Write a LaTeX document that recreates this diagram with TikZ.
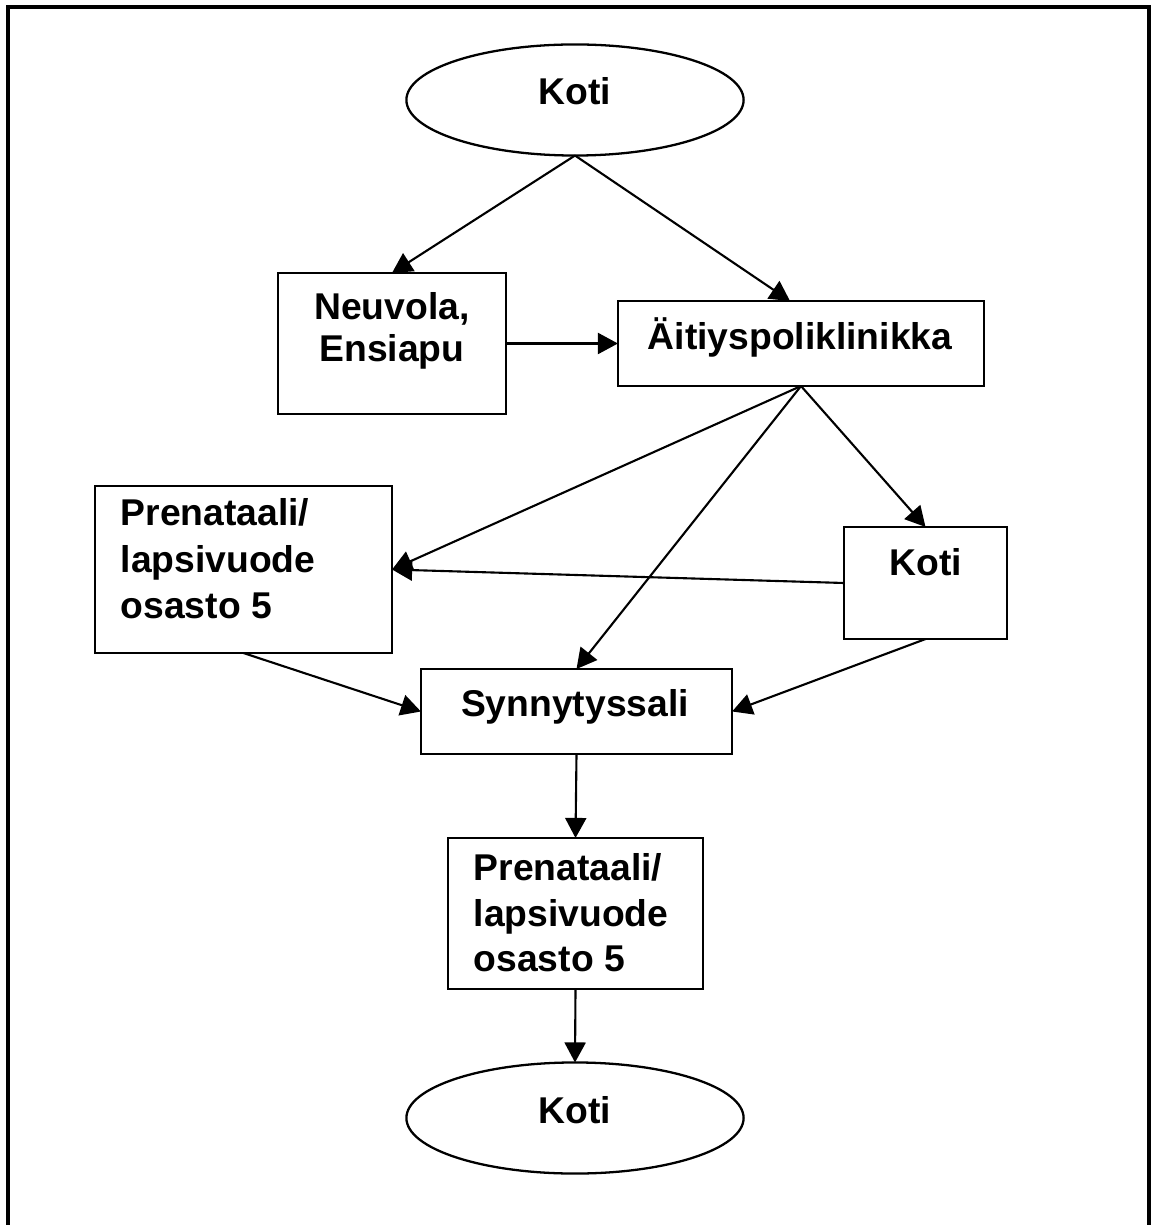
\documentclass[tikz,border=0pt]{standalone}
\usepackage{fontspec}
\setmainfont{Liberation Sans}
\usetikzlibrary{arrows.meta,shapes.geometric}
\begin{document}
\begin{tikzpicture}[x=0.01cm,y=-0.01cm,
  box/.style={draw, line width=0.65pt, rectangle, inner sep=0pt, outer sep=0pt},
  oval/.style={draw, line width=0.65pt, ellipse, inner sep=0pt, outer sep=0pt,
    minimum width=3.37cm, minimum height=1.11cm},
  lbl/.style={inner sep=0pt, font=\fontsize{10.6}{12}\selectfont\bfseries},
  arr/.style={line width=0.6pt, -{Triangle[length=5.7pt,width=6pt]}},
  frame/.style={line width=0.9pt}
]
\useasboundingbox (0,0) rectangle (1151,1225);
\draw[frame] (8,1240) -- (8,7) -- (1149,7) -- (1149,1240);

% shapes
\node[oval] (koti1) at (575,100) {};
\node[box, minimum width=2.28cm, minimum height=1.41cm] (neu) at (392,343.5) {};
\node[box, minimum width=3.66cm, minimum height=0.85cm] (ait) at (801,343.5) {};
\node[box, minimum width=2.97cm, minimum height=1.67cm] (pren1) at (243.5,569.5) {};
\node[box, minimum width=1.63cm, minimum height=1.12cm] (koti2) at (925.5,583) {};
\node[box, minimum width=3.11cm, minimum height=0.85cm] (syn) at (576.5,711.5) {};
\node[box, minimum width=2.55cm, minimum height=1.51cm] (pren2) at (575.5,913.5) {};
\node[oval] (koti3) at (575,1118) {};

% texts
\node[lbl, anchor=base] (tk1) at (575,105) {Koti};
\node[lbl, anchor=base] (tn1) at (392,320) {Neuvola,};
\node[lbl, anchor=base] (tn2) at (392,362) {Ensiapu};
\node[lbl, anchor=base] (ta) at (800,350) {Äitiyspoliklinikka};
\node[lbl, anchor=base west] (tp1a) at (120,525) {Prenataali/};
\node[lbl, anchor=base west] (tp1b) at (120,572) {lapsivuode};
\node[lbl, anchor=base west] (tp1c) at (120,618) {osasto 5};
\node[lbl, anchor=base] (tk2) at (926,575) {Koti};
\node[lbl, anchor=base] (ts) at (575,716) {Synnytyssali};
\node[lbl, anchor=base west] (tp2a) at (473,880) {Prenataali/};
\node[lbl, anchor=base west] (tp2b) at (473,926) {lapsivuode};
\node[lbl, anchor=base west] (tp2c) at (473,971) {osasto 5};
\node[lbl, anchor=base] (tk3) at (575,1123) {Koti};

% connectors
\draw[arr] (koti1.south) -- (neu.north);
\draw[arr] (koti1.south) -- ([xshift=-0.11cm]ait.north);
\draw[arr] (neu.east) -- (ait.west);
\draw[arr] (ait.south) -- (pren1.east);
\draw[arr] (ait.south) -- (syn.north);
\draw[arr] (ait.south) -- (koti2.north);
\draw[arr] (koti2.west) -- (pren1.east);
\draw[arr] (pren1.south) -- (syn.west);
\draw[arr] (koti2.south) -- (syn.east);
\draw[arr] (syn.south) -- (pren2.north);
\draw[arr] (pren2.south) -- (koti3.north);
\end{tikzpicture}
\end{document}
